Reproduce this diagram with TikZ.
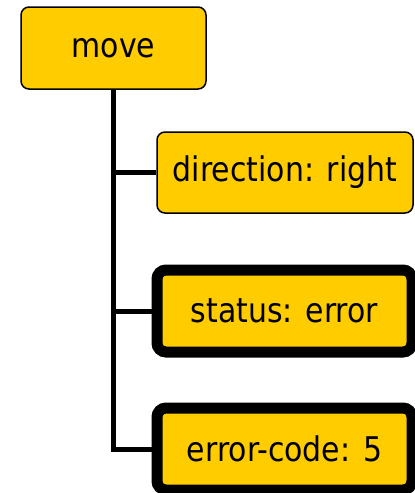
\documentclass[tikz,border=0pt]{standalone}
\usepackage{fontspec}
\setmainfont{DejaVu Sans}[FakeStretch=0.88]
\definecolor{boxfill}{RGB}{255,204,0}
\begin{document}
\begin{tikzpicture}[x=1pt,y=-1pt,
  item/.style={rectangle, rounded corners=8pt, fill=boxfill, draw=black,
    line width=1.5pt, inner sep=0pt, font=\fontsize{34}{40}\selectfont},
  flagged/.style={item, line width=11pt, rounded corners=9pt},
  link/.style={line width=5pt, line join=miter}]
  \useasboundingbox (0,0) rectangle (415,493);
  \node[item, minimum width=185pt, minimum height=82pt] (move) at (113.5,48) {move};
  \node[item, minimum width=256pt, minimum height=81pt] (dir) at (285,172.5) {direction: right};
  \node[flagged, minimum width=255pt, minimum height=82pt] (status) at (284.5,311) {status: error};
  \node[flagged, minimum width=255pt, minimum height=82pt] (code) at (284.5,449) {error-code: 5};
  \draw[link] (move.south) |- (dir.west);
  \draw[link] (move.south) |- (status.west);
  \draw[link] (move.south) |- (code.west);
\end{tikzpicture}
\end{document}
